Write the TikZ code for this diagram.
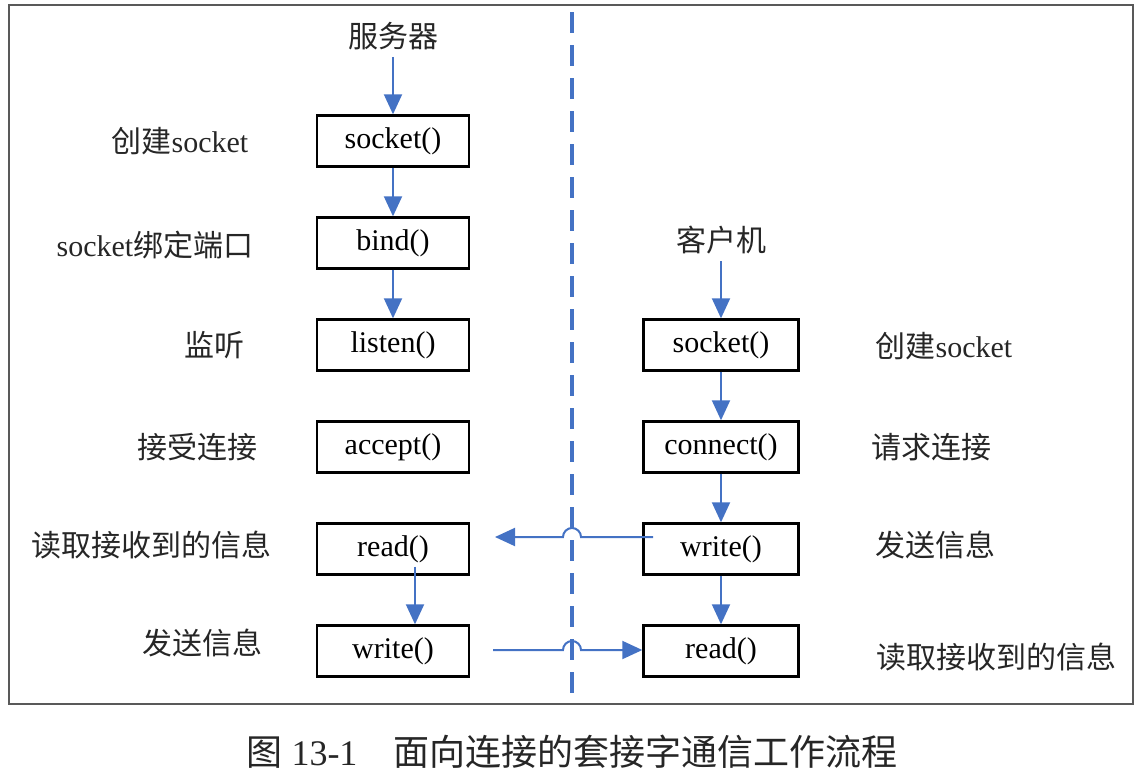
\documentclass[tikz,border=0pt]{standalone}
\usepackage{fontspec}
\setmainfont{Liberation Serif}
\newfontfamily\cjk{Noto Sans CJK SC}
\usetikzlibrary{arrows.meta, positioning}
\definecolor{flowblue}{HTML}{4472C4}

\tikzset{
  func/.style = {draw=black, line width=1.2pt, minimum width=76pt, minimum height=25.5pt, inner sep=0pt},
  link/.style = {draw=flowblue, line width=1pt},
  note/.style = {text=black!85}
}

\begin{document}
\begin{tikzpicture}[x=0.5pt, y=-0.5pt, ->, >={Triangle[length=10pt, width=9pt]}, node distance=51pt, font=\fontsize{15}{18}\selectfont]
    \useasboundingbox (0,0) rectangle (1141,783);
    \draw[-, black!65, line width=1pt] (9,5) rectangle (1133,704);
    \draw[-, flowblue, line width=1.6pt, dash pattern=on 10.5pt off 6pt] (572,12) -- (572,693);

    % server side
    \node[func]		(s1) at (393,141)			{socket()};
    \node[func]		(s2) [below of=s1]			{bind()};
    \node[func]		(s3) [below of=s2]			{listen()};
    \node[func]		(s4) [below of=s3]			{accept()};
    \node[func]		(s5) [below of=s4]			{read()};
    \node[func]		(s6) [below of=s5]			{write()};
    \node[note]		(server) [above of=s1, node distance=52.5pt]	{\cjk 服务器};

    % client side
    \node[func, minimum width=77.5pt]	(c1) [right of=s3, node distance=164pt]	{socket()};
    \node[func, minimum width=77.5pt]	(c2) [below of=c1]		{connect()};
    \node[func, minimum width=77.5pt]	(c3) [below of=c2]		{write()};
    \node[func, minimum width=77.5pt]	(c4) [below of=c3]		{read()};
    \node[note]		(client) [above of=c1, node distance=52.5pt]	{\cjk 客户机};

    % labels
    \node[note]		(ls1) at (180,141)	{{\cjk 创建}socket};
    \node[note]		(ls2) at (155,245)	{socket{\cjk 绑定端口}};
    \node[note]		(ls3) at (214,345)	{\cjk 监听};
    \node[note]		(ls4) at (197,447)	{\cjk 接受连接};
    \node[note]		(ls5) at (152,545)	{\cjk 读取接收到的信息};
    \node[note]		(ls6) at (202,643)	{\cjk 发送信息};
    \node[note]		(lc1) at (944,346)	{{\cjk 创建}socket};
    \node[note]		(lc2) at (931,447)	{\cjk 请求连接};
    \node[note]		(lc3) at (935,545)	{\cjk 发送信息};
    \node[note]		(lc4) at (996,657)	{\cjk 读取接收到的信息};

    \node[note, font=\fontsize{18}{21}\selectfont]	(caption) at (572,752)	{{\cjk 图} 13-1\quad{\cjk 面向连接的套接字通信工作流程}};

    \path	(server)	edge[link]	(s1);
    \path	(s1)		edge[link]	(s2);
    \path	(s2)		edge[link]	(s3);
    \path	([xshift=11pt, yshift=4.5pt]s5.south)	edge[link]	([xshift=11pt]s6.north);
    \path	(client)	edge[link]	(c1);
    \path	(c1)		edge[link]	(c2);
    \path	(c2)		edge[link]	(c3);
    \path	(c3)		edge[link]	(c4);

    % messages crossing the line
    \coordinate (m1) at (653,537);
    \coordinate (m2) at (495,537);
    \coordinate (m3) at (493,650);
    \draw[link] (m1) -- (581,537) arc[start angle=0, end angle=180, radius=4.5pt] -- (m2);
    \draw[link] (m3) -- (563,650) arc[start angle=180, end angle=0, radius=4.5pt] -- (m3 -| c4.west);
\end{tikzpicture}
\end{document}
